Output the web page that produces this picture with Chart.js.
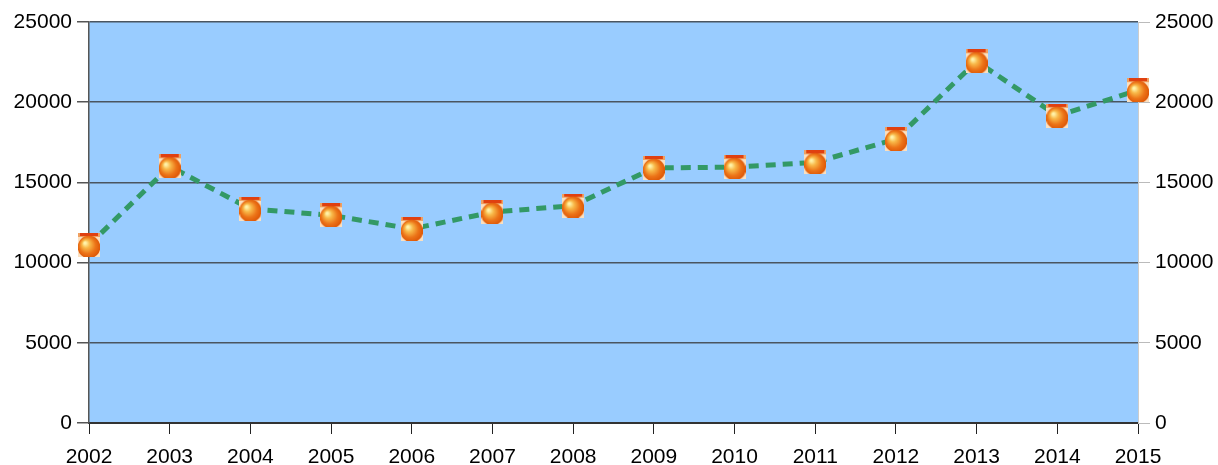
<!DOCTYPE html>
<html><head><meta charset="utf-8">
<script src="https://cdn.jsdelivr.net/npm/chart.js@4/dist/chart.umd.min.js"></script>
<style>html,body{margin:0;padding:0;background:#fff;}canvas{display:block;}</style>
</head><body>
<canvas id="c" width="1218" height="465"></canvas>
<script>
const years = ['2002','2003','2004','2005','2006','2007','2008','2009','2010','2011','2012','2013','2014','2015'];
const values = [11100, 16000, 13350, 12950, 12100, 13150, 13550, 15900, 15950, 16250, 17700, 22550, 19150, 20750];
const yTicks = [0, 5000, 10000, 15000, 20000, 25000];

function makeMarker(){
  const w=22,h=24; const c=document.createElement('canvas'); c.width=w; c.height=h;
  const g=c.getContext('2d');
  g.fillStyle='#fff'; g.fillRect(0,0,w,h);
  g.fillStyle='#fbe0c0'; g.fillRect(0,3,w,h-3);
  g.fillStyle='#f0a060'; g.fillRect(0,0,w,4);
  g.fillStyle='#e04010'; g.fillRect(2,0,w-4,3);
  const grad=g.createRadialGradient(7,10,1,11,14,13);
  grad.addColorStop(0,'#fff2a8');
  grad.addColorStop(0.25,'#f8b848');
  grad.addColorStop(0.6,'#ec7418');
  grad.addColorStop(1,'#d84c00');
  g.fillStyle=grad; g.beginPath(); g.arc(11,14,11.3,0,Math.PI*2); g.fill();
  return c;
}
const marker = makeMarker();

const bgPlugin = {id:'bg', beforeDraw(ch){const a=ch.chartArea,x=ch.ctx;x.save();x.fillStyle='#99CCFF';x.fillRect(a.left,a.top,a.right-a.left,a.bottom-a.top);x.restore();}};
const fnt = {family:'Liberation Sans',size:21};

new Chart(document.getElementById('c'), {
  type:'line',
  data:{labels:years, datasets:[{data:values, borderColor:'#339966', borderWidth:5, borderDash:[10,7], tension:0, fill:false, pointStyle:marker, pointRadius:11, pointHoverRadius:11, yAxisID:'y'}]},
  options:{
    responsive:false, animation:false,
    layout:{padding:{top:22,left:0,right:0,bottom:0}},
    plugins:{legend:{display:false},tooltip:{enabled:false}},
    scales:{
      x:{offset:false, grid:{drawOnChartArea:false, drawTicks:true, tickLength:11, color:'#222'}, border:{color:'#333',width:2},
         ticks:{color:'#000', font:fnt, padding:11, maxRotation:0, autoSkip:false},
         afterFit(s){s.height=42;}},
      y:{position:'left', min:0, max:25000, afterBuildTicks(s){s.ticks=yTicks.map(v=>({value:v}));},
         grid:{color:'#4a5560', lineWidth:1.5, tickLength:12, tickColor:'#555'}, border:{color:'#555',width:1.5},
         ticks:{color:'#000', font:fnt, padding:5, callback:v=>String(v)},
         afterFit(s){s.width=89;}},
      y2:{position:'right', min:0, max:25000, afterBuildTicks(s){s.ticks=yTicks.map(v=>({value:v}));},
         grid:{drawOnChartArea:false, tickLength:12, color:'#bbb'}, border:{color:'#ccc',width:1},
         ticks:{color:'#000', font:fnt, padding:5, callback:v=>String(v)},
         afterFit(s){s.width=80;}}
    }
  },
  plugins:[bgPlugin]
});
</script>
</body></html>
